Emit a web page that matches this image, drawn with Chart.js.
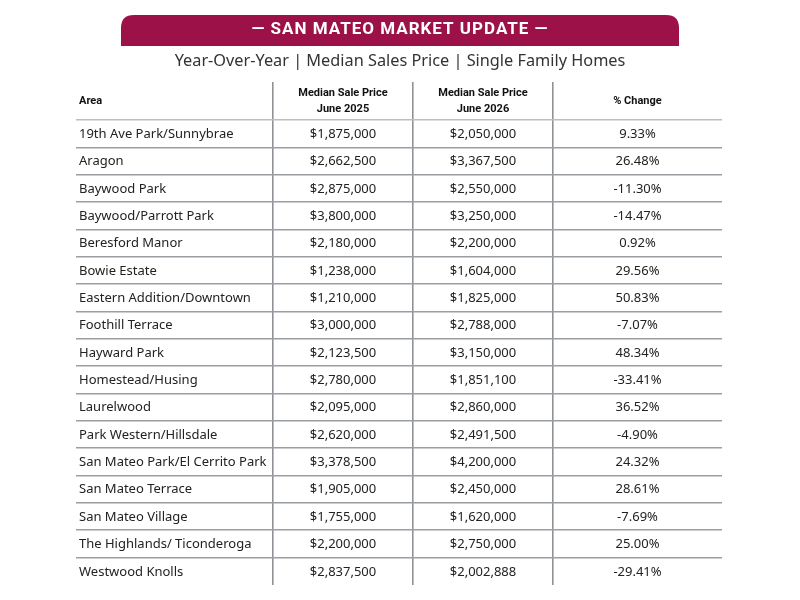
<!DOCTYPE html>
<html>
<head>
<meta charset="utf-8">
<script src="https://cdn.jsdelivr.net/npm/chart.js@4.4.1/dist/chart.umd.min.js"></script>
<style>
  html, body { margin: 0; padding: 0; background: #fff; }
  #wrap { width: 800px; height: 600px; }
</style>
</head>
<body>
<div id="wrap"><canvas id="table"></canvas></div>
<script>
const areas = [
  '19th Ave Park/Sunnybrae', 'Aragon', 'Baywood Park', 'Baywood/Parrott Park',
  'Beresford Manor', 'Bowie Estate', 'Eastern Addition/Downtown', 'Foothill Terrace',
  'Hayward Park', 'Homestead/Husing', 'Laurelwood', 'Park Western/Hillsdale',
  'San Mateo Park/El Cerrito Park', 'San Mateo Terrace', 'San Mateo Village',
  'The Highlands/ Ticonderoga', 'Westwood Knolls'
];
const price2025 = [
  1875000, 2662500, 2875000, 3800000, 2180000, 1238000, 1210000, 3000000,
  2123500, 2780000, 2095000, 2620000, 3378500, 1905000, 1755000, 2200000, 2837500
];
const price2026 = [
  2050000, 3367500, 2550000, 3250000, 2200000, 1604000, 1825000, 2788000,
  3150000, 1851100, 2860000, 2491500, 4200000, 2450000, 1620000, 2750000, 2002888
];
const pctChange = [
  9.33, 26.48, -11.30, -14.47, 0.92, 29.56, 50.83, -7.07,
  48.34, -33.41, 36.52, -4.90, 24.32, 28.61, -7.69, 25.00, -29.41
];
const headers = [['Area'], ['Median Sale Price', 'June 2025'], ['Median Sale Price', 'June 2026'], ['% Change']];

const title = '\u2014 SAN MATEO MARKET UPDATE \u2014';
const subtitle = 'Year-Over-Year | Median Sales Price | Single Family Homes';

// column widths in px, used as the x scale units
const colWidths = [197, 140, 140, 169];
const colEdges = colWidths.reduce((a, w) => { a.push(a[a.length - 1] + w); return a; }, [0]);

const money = v => '$' + v.toLocaleString('en-US');
const pct = v => v.toFixed(2) + '%';

const BODY_FONT = '"Noto Sans", sans-serif';
const HEAD_FONT = 'Roboto, sans-serif';

const tablePlugin = {
  id: 'tableCells',
  beforeDraw(chart) {
    const ctx = chart.ctx;
    // banner
    const bx = 121, by = 15, bw = 558, bh = 31, r = 13;
    ctx.save();
    ctx.fillStyle = '#9c1148';
    ctx.beginPath();
    ctx.moveTo(bx, by + bh);
    ctx.lineTo(bx, by + r);
    ctx.quadraticCurveTo(bx, by, bx + r, by);
    ctx.lineTo(bx + bw - r, by);
    ctx.quadraticCurveTo(bx + bw, by, bx + bw, by + r);
    ctx.lineTo(bx + bw, by + bh);
    ctx.closePath();
    ctx.fill();
    ctx.fillStyle = '#ffffff';
    ctx.font = 'bold 17px ' + HEAD_FONT;
    ctx.letterSpacing = '1px';
    ctx.textAlign = 'center';
    ctx.textBaseline = 'middle';
    ctx.fillText(title, 400, 30);
    ctx.letterSpacing = '0px';
    ctx.fillStyle = '#333333';
    ctx.font = '16.3px ' + BODY_FONT;
    ctx.fillText(subtitle, 400, 61);
    ctx.restore();
  },
  afterDraw(chart) {
    const ctx = chart.ctx;
    const x = chart.scales.x, y = chart.scales.y;
    const area = chart.chartArea;
    const colX = i => (x.getPixelForValue(colEdges[i]) + x.getPixelForValue(colEdges[i + 1])) / 2;
    ctx.save();
    ctx.textBaseline = 'middle';
    // header row
    ctx.fillStyle = '#111111';
    ctx.font = 'bold 11px ' + HEAD_FONT;
    const headMid = area.top - 19;
    headers.forEach((lines, i) => {
      ctx.textAlign = i === 0 ? 'left' : 'center';
      const hx = i === 0 ? x.getPixelForValue(colEdges[0]) + 3 : colX(i);
      lines.forEach((t, k) => {
        const off = (k - (lines.length - 1) / 2) * 16;
        ctx.fillText(t, hx, headMid + off);
      });
    });
    // body rows
    ctx.fillStyle = '#222222';
    ctx.font = '13px ' + BODY_FONT;
    areas.forEach((name, r) => {
      const py = y.getPixelForValue(r) + 0.5;
      ctx.textAlign = 'left';
      ctx.fillText(name, x.getPixelForValue(colEdges[0]) + 3, py);
      ctx.textAlign = 'center';
      ctx.fillText(money(price2025[r]), colX(1), py);
      ctx.fillText(money(price2026[r]), colX(2), py);
      ctx.fillText(pct(pctChange[r]), colX(3), py);
    });
    ctx.restore();
  }
};

new Chart(document.getElementById('table'), {
  type: 'scatter',
  data: { labels: areas, datasets: [{ data: [], showLine: false }] },
  plugins: [tablePlugin],
  options: {
    responsive: true,
    maintainAspectRatio: false,
    animation: false,
    events: [],
    layout: { padding: { top: 82, left: 76, right: 78, bottom: 15 } },
    plugins: { legend: { display: false }, tooltip: { enabled: false } },
    scales: {
      x: {
        type: 'linear',
        position: 'top',
        min: 0,
        max: colEdges[colEdges.length - 1],
        afterBuildTicks: s => { s.ticks = colEdges.slice(1, -1).map(v => ({ value: v })); },
        ticks: { display: false },
        border: { display: false },
        grid: { color: '#8f9398', lineWidth: 1.6, drawTicks: true, tickLength: 38 }
      },
      y: {
        type: 'category',
        labels: areas,
        offset: true,
        ticks: { display: false },
        border: { display: false },
        grid: {
          offset: true,
          drawTicks: false,
          lineWidth: 1.6,
          color: c => c.type !== 'tick' ? 'rgba(0,0,0,0)' : (c.index === 0 ? '#bdbdbd' : '#9a9ea3')
        }
      }
    }
  }
});
</script>
</body>
</html>
